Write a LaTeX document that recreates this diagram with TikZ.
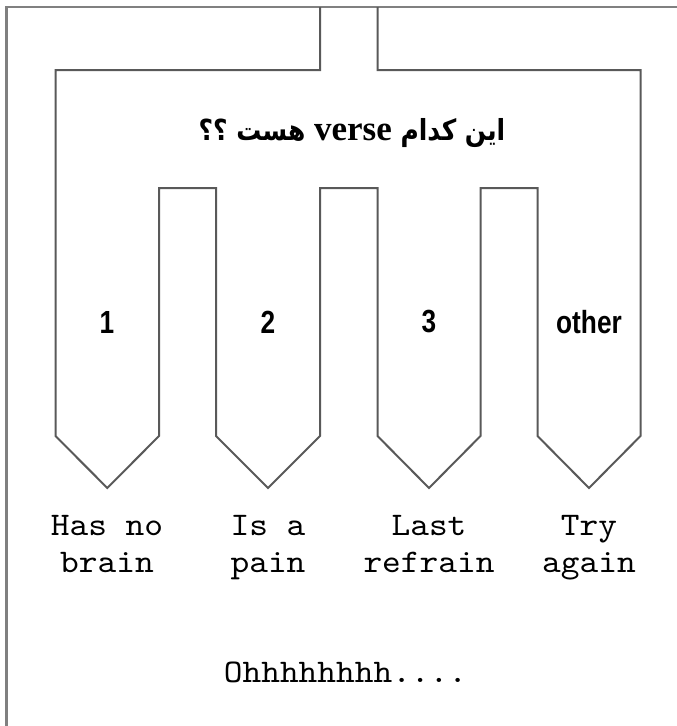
\documentclass[tikz,border=0pt]{standalone}
\usepackage{fontspec}
\setmainfont{Liberation Serif}
\newfontfamily\arabicfont[Script=Arabic,FakeStretch=0.86]{DejaVu Sans}
\newfontfamily\versefont{Liberation Serif}
\newfontfamily\choicefont[FakeStretch=0.82]{Liberation Sans}
\newfontfamily\answerfont[FakeStretch=1.08]{lmmono10-regular.otf}
\TeXXeTstate=1

\begin{document}
\begin{tikzpicture}[x=1pt, y=-1pt,
    frame/.style={line width=2.6pt, draw=black!50},
    outline/.style={line width=2pt, draw=black!65, line join=miter},
    choice/.style={font=\choicefont\bfseries\fontsize{32}{36}\selectfont},
    answer/.style={font=\answerfont\fontsize{33}{37}\selectfont, align=center, anchor=base, inner sep=0pt},
]
  \useasboundingbox (0,0) rectangle (677,726);
  \draw[frame] (6.5,730) -- (6.5,7) -- (680,7);

  % funnel with four pointers
  \draw[outline] (320,7) -- (320,70) -- (55.5,70)
      -- (55.5,436) -- (107.3,488) -- (159,436) -- (159,188) -- (216,188)
      -- (216,436) -- (268,488) -- (320,436) -- (320,188) -- (377.5,188)
      -- (377.5,436) -- (429,488) -- (480.5,436) -- (480.5,188) -- (537.5,188)
      -- (537.5,436) -- (589,488) -- (640.5,436)
      -- (640.5,70) -- (377.5,70) -- (377.5,7);

  \node (title) at (352,133) {\arabicfont\bfseries\fontsize{29}{32}\selectfont\beginR این کدام \beginL{\versefont\bfseries\fontsize{35}{40}\selectfont verse}\endL{} هست ؟؟\endR};

  \foreach \i/\x/\name in {1/107/1, 2/268/2, 3/429/3, 4/589/other}
      \node[choice] (num\i) at (\x,322) {\name};

  % base anchor sits on the second line
  \foreach \i/\x/\lineA/\lineB in {1/107/Has no/brain, 2/268/Is a/pain, 3/429/Last/refrain, 4/589/Try/again}
      \node[answer] (ans\i) at (\x,572) {\lineA\\\lineB};

  \node[answer] (outro) at (345.5,682) {Ohhhhhhhh....};
\end{tikzpicture}
\end{document}
